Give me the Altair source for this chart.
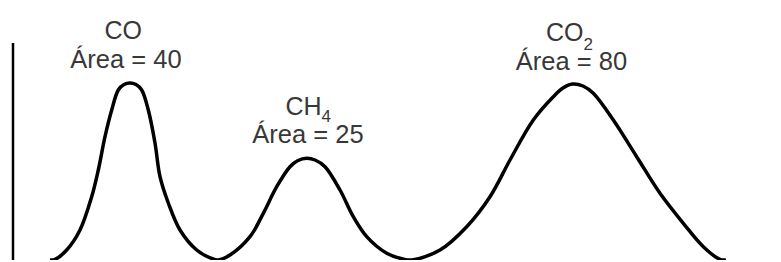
import altair as alt
import pandas as pd

# Chromatogram trace: retention position (a.u.) and detector signal (a.u.)
trace_x = [37, 42, 53.7, 67, 78.7, 85.3, 92, 98.7, 105.3, 111, 117, 123, 128.7, 135.3, 142, 147,
           155.3, 167, 183.7, 200, 205,
           217, 237, 250.3, 263.7, 277, 285, 293.7, 302, 312, 327, 340.3, 353.7, 373.7, 390, 399,
           427, 453.7, 477, 497, 520.3, 540.3, 550, 559.5, 570, 580.3, 600.3, 623.7, 647, 670.3,
           690.3, 707, 713]
trace_y = [0, 0.6, 10, 30, 63.3, 90, 123.3, 150, 170, 175.5, 177, 175.5, 170, 150, 117, 83.3,
           57, 30, 10, 1, 0,
           5, 23.3, 46.7, 73.3, 93.3, 99.5, 101.7, 100, 93.3, 70, 43.3, 23.3, 6.7, 1, 0,
           10, 33.3, 63.3, 100, 140, 163.3, 172, 176, 174, 166.7, 140, 103.3, 66.7, 36.7,
           13.3, 0.6, 0]

# Vertical signal axis extent
axis_top = 217

# Peak annotations
peak_formula = ["CO", "CH", "CO"]
peak_sub = ["", "4", "2"]
peak_area = [40, 25, 80]
formula_x = [129, 308.5, 570.5]
formula_y = [221, 145, 219]
sub_y = [0, 138, 210]
area_x = [113, 295, 558.5]
area_y = [192, 117, 190]

trace = pd.DataFrame({"t": trace_x, "s": trace_y})
formula = pd.DataFrame({"x": formula_x, "y": formula_y, "label": peak_formula})
subs = pd.DataFrame({"x": formula_x, "y": sub_y, "label": peak_sub})
subs = subs[subs["label"] != ""]
areas = pd.DataFrame({"x": area_x, "y": area_y,
                      "label": [f"Área = {a}" for a in peak_area]})
axis_df = pd.DataFrame({"t": [0], "s0": [0], "s1": [axis_top]})

xs = alt.Scale(domain=[-5, 755], nice=False, zero=False)
ys = alt.Scale(domain=[0, 252], nice=False, zero=False)
font = "Liberation Sans"
tcol = "#383838"

line = alt.Chart(trace).mark_line(color="black", strokeWidth=3.5, interpolate="catmull-rom").encode(
    x=alt.X("t:Q", scale=xs, axis=None),
    y=alt.Y("s:Q", scale=ys, axis=None),
)

axis_rule = alt.Chart(axis_df).mark_rule(color="black", strokeWidth=2.5).encode(
    x=alt.X("t:Q", scale=xs, axis=None),
    y=alt.Y("s0:Q", scale=ys, axis=None),
    y2="s1:Q",
)

ftext = alt.Chart(formula).mark_text(font=font, fontSize=25, color=tcol, align="right",
                                     baseline="alphabetic").encode(
    x=alt.X("x:Q", scale=xs, axis=None), y=alt.Y("y:Q", scale=ys, axis=None), text="label:N")

stext = alt.Chart(subs).mark_text(font=font, fontSize=17, color=tcol, align="left",
                                  baseline="alphabetic").encode(
    x=alt.X("x:Q", scale=xs, axis=None), y=alt.Y("y:Q", scale=ys, axis=None), text="label:N")

atext = alt.Chart(areas).mark_text(font=font, fontSize=25.5, color=tcol, align="center",
                                   baseline="alphabetic").encode(
    x=alt.X("x:Q", scale=xs, axis=None), y=alt.Y("y:Q", scale=ys, axis=None), text="label:N")

chart = alt.layer(axis_rule, line, ftext, stext, atext).properties(
    width=760, height=252, padding=0, autosize=alt.AutoSizeParams(type="none")
).configure_view(stroke=None)

chart.save("out.html", embed_options={"renderer": "svg", "actions": False})
